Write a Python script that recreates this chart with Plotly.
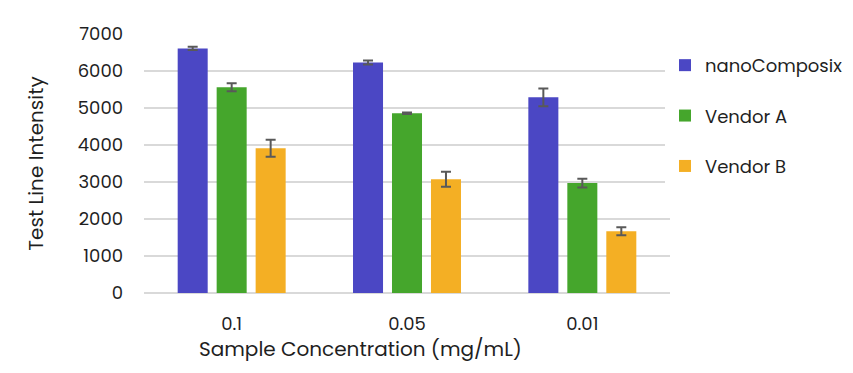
import plotly.graph_objects as go

categories = ["0.1", "0.05", "0.01"]
series_names = ["nanoComposix", "Vendor A", "Vendor B"]
nano_values = [6610, 6230, 5290]
nano_err = [45, 55, 240]
vendor_a_values = [5560, 4860, 2970]
vendor_a_err = [110, 20, 120]
vendor_b_values = [3910, 3075, 1670]
vendor_b_err = [230, 205, 110]
y_ticks = [0, 1000, 2000, 3000, 4000, 5000, 6000, 7000]

colors = ["#4B47C4", "#45A62C", "#F4AF24"]
values = [nano_values, vendor_a_values, vendor_b_values]
errors = [nano_err, vendor_a_err, vendor_b_err]

FONT = "Poppins, Lato, 'Open Sans', sans-serif"
TXT = "#1f1f1f"

fig = go.Figure()
for name, vals, errs, c in zip(series_names, values, errors, colors):
    fig.add_trace(go.Bar(
        x=categories, y=vals, name=name, marker_color=c, marker_line_width=0,
        legendgroup=name,
        error_y=dict(type="data", array=errs, visible=True, color="#595959",
                     thickness=2, width=5),
    ))

fig.add_annotation(text="Sample Concentration (mg/mL)", xref="paper", yref="paper",
                   x=0.4125, y=-0.216, xanchor="center", yanchor="middle",
                   showarrow=False, font=dict(size=20, family=FONT, color=TXT))

fig.update_layout(
    width=845, height=365,
    margin=dict(l=136, r=183, t=26, b=80, autoexpand=False),
    paper_bgcolor="white", plot_bgcolor="white",
    barmode="group", bargap=0.333, bargroupgap=0.23,
    font=dict(family=FONT, color=TXT, size=18),
    legend=dict(x=0.9905, xanchor="left", y=0.95, yanchor="top",
                font=dict(size=18, family=FONT, color=TXT),
                tracegroupgap=24, itemwidth=30),
    xaxis=dict(showgrid=False, showline=False, ticks="", ticklabelstandoff=18,
               tickfont=dict(size=18)),
    yaxis=dict(title=dict(text="Test Line Intensity", font=dict(size=20), standoff=28),
               range=[0, 7000], tickvals=y_ticks, showgrid=True, gridcolor="#D9D9D9",
               gridwidth=2, zeroline=True, zerolinecolor="#D9D9D9", zerolinewidth=2,
               ticks="", ticklabelstandoff=20, tickfont=dict(size=18)),
)

fig.write_html("out.html")
